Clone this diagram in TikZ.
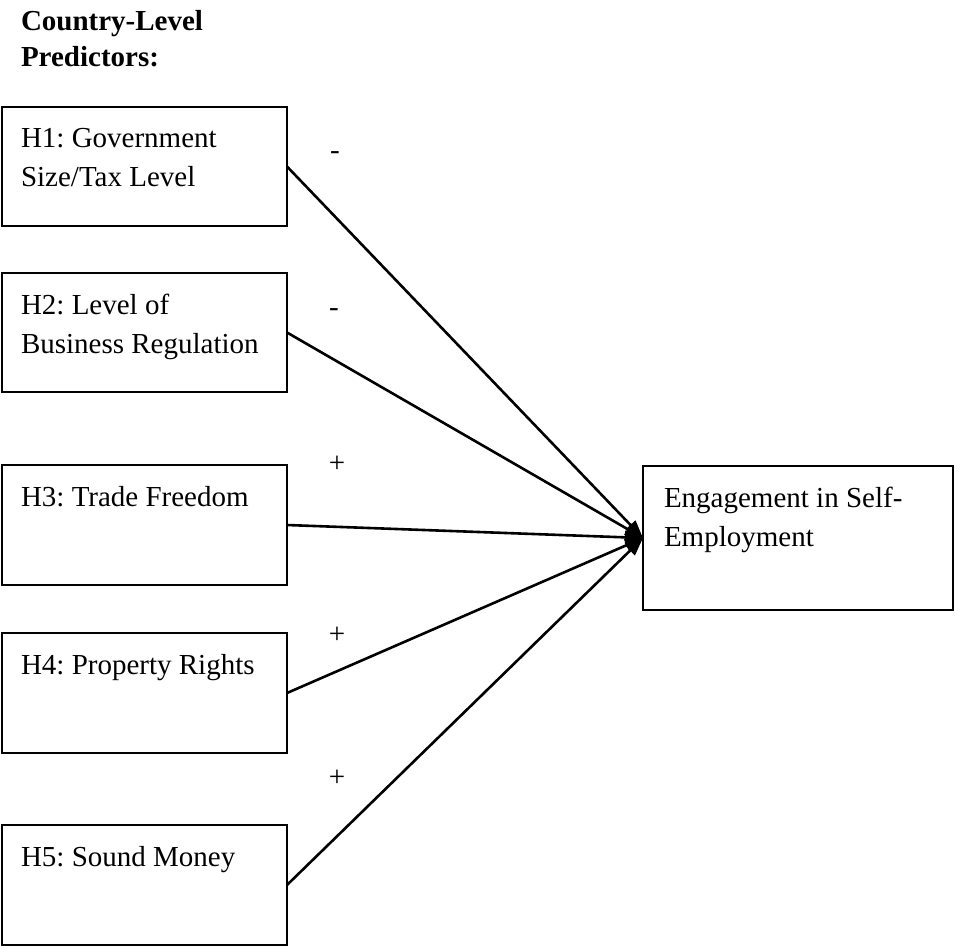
\documentclass[tikz,border=0pt]{standalone}
\usepackage{fontspec}
\setmainfont{Liberation Serif}
\usetikzlibrary{arrows.meta}
\frenchspacing
\begin{document}
\begin{tikzpicture}[x=1pt,y=-1pt,
  box/.style={draw, line width=1.9pt, rectangle, inner sep=0pt, outer sep=0pt, anchor=north west},
  lbox/.style={box, minimum width=285pt, minimum height=119pt},
  txt/.style={inner sep=0pt, outer sep=0pt, anchor=north west, align=left, font=\fontsize{29}{39}\selectfont},
  sign/.style={inner sep=0pt, anchor=base, font=\fontsize{29}{38}\selectfont},
  link/.style={line width=2.6pt, -{Triangle[length=18pt,width=13pt]}}]
\useasboundingbox (0,0) rectangle (958,946);
\node[txt, font=\fontsize{29}{36}\selectfont\bfseries] (title) at (21,10) {Country-Level\\Predictors:};
\node[lbox] (h1) at (2,107) {};
\node[lbox] (h2) at (2,273) {};
\node[lbox, minimum height=120pt] (h3) at (2,465) {};
\node[lbox, minimum height=120pt] (h4) at (2,633) {};
\node[lbox, minimum height=120pt] (h5) at (2,825) {};
\node[box, minimum width=310pt, minimum height=144pt] (eng) at (643,466) {};
\node[txt] (h1t) at ([shift={(19,21)}]h1.north west) {H1: Government\\Size/Tax Level};
\node[txt] (h2t) at ([shift={(19,21)}]h2.north west) {H2: Level of\\Business Regulation};
\node[txt] (h3t) at ([shift={(19,21)}]h3.north west) {H3: Trade Freedom};
\node[txt] (h4t) at ([shift={(19,21)}]h4.north west) {H4: Property Rights};
\node[txt] (h5t) at ([shift={(19,21)}]h5.north west) {H5: Sound Money};
\node[txt] (engt) at ([shift={(21,21)}]eng.north west) {Engagement in Self-\\Employment};
\draw[link] (h1.east) -- (eng.west);
\draw[link] (h2.east) -- (eng.west);
\draw[link] (h3.east) -- (eng.west);
\draw[link] (h4.east) -- (eng.west);
\draw[link] (h5.east) -- (eng.west);
\node[sign] (s1) at (335,159) {-};
\node[sign] (s2) at (334,316) {-};
\node[sign] (s3) at (337,472) {+};
\node[sign] (s4) at (337,643) {+};
\node[sign] (s5) at (337,786) {+};
\end{tikzpicture}
\end{document}
